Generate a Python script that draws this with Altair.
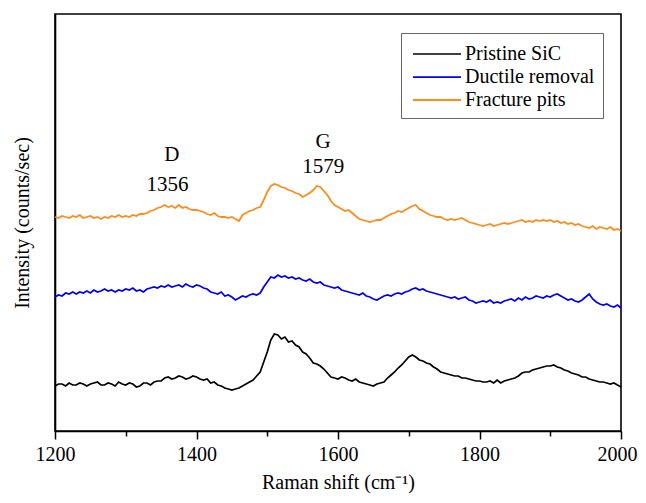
import altair as alt
import pandas as pd

# Raman shift grid (cm-1)
shift = list(range(1200, 2001, 5))

series = ["Pristine SiC", "Ductile removal", "Fracture pits"]
colors = ["#000000", "#0000ff", "#ff8c1a"]
widths = [1.7, 1.8, 1.2]

pristine = [
    44, 46, 46, 44, 47, 45, 45, 47, 46, 44,
    46, 47, 48, 45, 45, 47, 46, 44, 48, 46,
    45, 47, 46, 43, 44, 47, 47, 45, 48, 49,
    49, 52, 53, 51, 52, 54, 53, 51, 52, 54,
    53, 51, 50, 51, 47, 48, 45, 44, 42, 41,
    40, 41, 42, 44, 46, 48, 50, 54, 58, 68,
    78, 90, 96, 95, 91, 93, 88, 89, 85, 83,
    78, 76, 72, 67, 66, 64, 61, 57, 53, 52,
    51, 53, 52, 50, 49, 51, 48, 47, 46, 45,
    44, 46, 47, 48, 52, 55, 58, 62, 65, 69,
    73, 75, 73, 70, 69, 67, 66, 63, 61, 58,
    57, 56, 55, 54, 54, 52, 52, 51, 50, 49,
    49, 48, 48, 49, 47, 50, 47, 49, 50, 51,
    52, 54, 57, 58, 58, 60, 61, 62, 63, 64,
    64, 65, 63, 62, 60, 59, 57, 56, 55, 53,
    53, 51, 50, 49, 48, 48, 47, 46, 47, 45,
    43,
]

ductile = [
    133, 135, 134, 137, 136, 138, 136, 138, 137, 139,
    137, 140, 138, 139, 141, 139, 140, 138, 140, 139,
    141, 140, 142, 139, 140, 138, 141, 142, 143, 142,
    144, 143, 145, 143, 144, 145, 143, 146, 144, 143,
    145, 144, 142, 141, 138, 137, 136, 138, 134, 135,
    133, 130, 132, 134, 133, 135, 136, 135, 137, 143,
    148, 153, 152, 155, 153, 154, 152, 153, 151, 152,
    150, 149, 151, 148, 147, 148, 145, 144, 143, 142,
    143, 140, 139, 138, 137, 136, 135, 137, 134, 133,
    131, 130, 132, 134, 135, 134, 136, 137, 136, 138,
    139, 141, 142, 140, 141, 139, 138, 137, 136, 135,
    134, 133, 132, 133, 131, 132, 133, 130, 129, 127,
    128, 129, 128, 130, 127, 128, 127, 129, 130, 131,
    129, 132, 130, 133, 131, 132, 134, 133, 132, 134,
    133, 135, 136, 134, 132, 130, 131, 129, 128, 130,
    133, 136, 131, 128, 126, 125, 126, 124, 123, 125,
    122,
]

fracture = [
    213, 212, 214, 213, 212, 214, 213, 215, 212, 213,
    214, 212, 213, 211, 213, 212, 214, 213, 215, 213,
    214, 213, 215, 214, 216, 216, 217, 219, 220, 222,
    223, 225, 223, 224, 222, 225, 222, 223, 221, 220,
    220, 219, 218, 216, 215, 217, 214, 213, 213, 212,
    213, 211, 209, 215, 217, 219, 220, 222, 223, 230,
    238, 244, 246, 245, 243, 242, 240, 239, 237, 236,
    233, 235, 237, 240, 244, 243, 239, 235, 229, 225,
    223, 221, 219, 220, 217, 214, 211, 210, 209, 208,
    209, 210, 210, 212, 214, 216, 217, 219, 218, 220,
    222, 224, 225, 221, 219, 217, 215, 214, 213, 213,
    211, 210, 211, 210, 211, 212, 210, 208, 207, 206,
    205, 204, 205, 206, 204, 205, 206, 207, 206, 207,
    208, 209, 210, 208, 209, 208, 210, 209, 210, 209,
    210, 208, 209, 207, 208, 206, 207, 205, 206, 204,
    203, 202, 204, 201, 203, 202, 201, 203, 200, 201,
    199,
]

peak_text = ["D", "1356", "G", "1579"]
peak_x = [1365, 1359, 1579, 1579]
peak_y = [275, 245, 288, 263]

assert len(pristine) == len(shift) == len(ductile) == len(fracture)

rows = []
for name, vals in zip(series, [pristine, ductile, fracture]):
    for s, v in zip(shift, vals):
        rows.append({"shift": s, "intensity": v, "sample": name})
df = pd.DataFrame(rows)
labels_df = pd.DataFrame({"x": peak_x, "y": peak_y, "t": peak_text})

FONT = "Liberation Serif"

xscale = alt.Scale(domain=[1200, 2000], nice=False, zero=False)
yscale = alt.Scale(domain=[-1, 416], nice=False, zero=False)

xaxis = alt.Axis(
    values=list(range(1200, 2001, 100)),
    format="d",
    labelExpr="datum.value % 200 === 0 ? datum.label : ''",
    tickSize={"condition": {"test": "datum.value % 200 === 0", "value": 8}, "value": 5},
    labelOffset={"condition": {"test": "datum.value === 2000", "value": -4}, "value": 0},
    labelPadding=5,
    labelFontSize=20,
    labelOverlap=False,
    labelFlush=False,
    grid=False,
    title="Raman shift (cm⁻¹)",
    titleFontSize=20,
    titlePadding=8,
)
yaxis = alt.Axis(
    labels=False,
    ticks=False,
    grid=False,
    title="Intensity (counts/sec)",
    titleFontSize=20,
    titlePadding=23,
)

lines = alt.Chart(df).mark_line().encode(
    x=alt.X("shift:Q", scale=xscale, axis=xaxis),
    y=alt.Y("intensity:Q", scale=yscale, axis=yaxis),
    color=alt.Color(
        "sample:N",
        scale=alt.Scale(domain=series, range=colors),
        sort=series,
        legend=alt.Legend(
            title=None,
            orient="none",
            legendX=346,
            legendY=19,
            strokeColor="#666666",
            fillColor="white",
            padding=8,
            symbolType="M-2,0H2",
            symbolSize=576,
            symbolStrokeWidth=1.6,
            symbolOffset=15,
            labelOffset=15,
            labelFont=FONT,
            labelFontSize=20,
            labelColor="black",
            labelLimit=0,
            rowPadding=0,
        ),
    ),
    strokeWidth=alt.StrokeWidth(
        "sample:N", scale=alt.Scale(domain=series, range=widths), legend=None
    ),
    order=alt.Order("shift:Q"),
)

text = alt.Chart(labels_df).mark_text(
    font=FONT, fontSize=21, color="black", align="center", baseline="middle"
).encode(
    x=alt.X("x:Q", scale=xscale),
    y=alt.Y("y:Q", scale=yscale),
    text="t:N",
)

chart = (
    alt.layer(lines, text)
    .properties(
        width=566,
        height=417,
        autosize=alt.AutoSizeParams(type="none"),
        padding={"left": 47, "top": 6, "right": 17, "bottom": 64},
        background="white",
    )
    .configure_view(stroke="black", strokeWidth=1.6)
    .configure_axis(
        domainColor="black",
        domainWidth=1.6,
        tickColor="black",
        tickWidth=1.5,
        labelFont=FONT,
        titleFont=FONT,
        labelColor="black",
        titleColor="black",
        titleFontWeight="normal",
    )
)

chart.save("out.html", embed_options={"renderer": "svg", "actions": False})
